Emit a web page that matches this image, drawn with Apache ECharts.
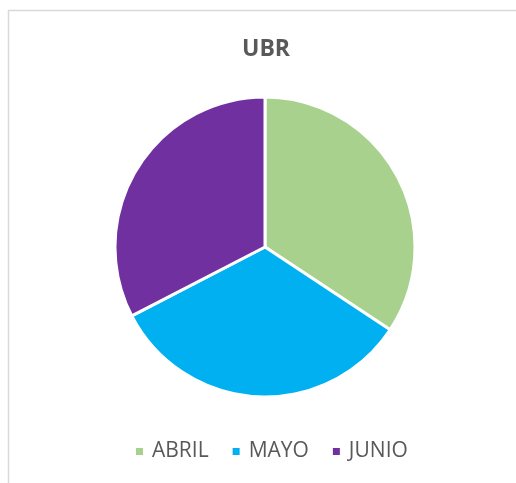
<!DOCTYPE html>
<html><head><meta charset="utf-8">
<script src="https://cdn.jsdelivr.net/npm/echarts@6/dist/echarts.min.js"></script>
<style>html,body{margin:0;padding:0;background:#fff}#c{width:516px;height:483px}</style>
</head><body><div id="c"></div>
<script>
const categories = ['ABRIL', 'MAYO', 'JUNIO'];
const values = [34.3, 33.1, 32.6];
const colors = ['#A9D18E', '#00B0F0', '#7030A0'];

const chart = echarts.init(document.getElementById('c'));
chart.setOption({
  animation: false,
  title: {
    text: 'UBR', left: 242, top: 38, padding: 0,
    textStyle: { fontFamily: 'Open Sans', fontWeight: 'bold', fontSize: 23, color: '#595959' }
  },
  legend: {
    top: 441, left: 134, itemWidth: 9, itemHeight: 9, itemGap: 22, icon: 'rect', padding: 0,
    data: categories,
    textStyle: { fontFamily: 'Open Sans', fontSize: 21, color: '#595959', padding: [0, 0, 0, 3] }
  },
  graphic: [{
    type: 'polyline', silent: true,
    shape: { points: [[8.5, 483], [8.5, 10.5], [516, 10.5]] },
    style: { stroke: '#D9D9D9', lineWidth: 1.5, fill: null }
  }],
  series: [{
    type: 'pie', center: [265, 247], radius: 150, startAngle: 90, clockwise: true,
    label: { show: false }, labelLine: { show: false },
    itemStyle: { borderColor: '#fff', borderWidth: 3 },
    emphasis: { disabled: true },
    data: categories.map((n, i) => ({ name: n, value: values[i], itemStyle: { color: colors[i] } }))
  }]
});
</script></body></html>
